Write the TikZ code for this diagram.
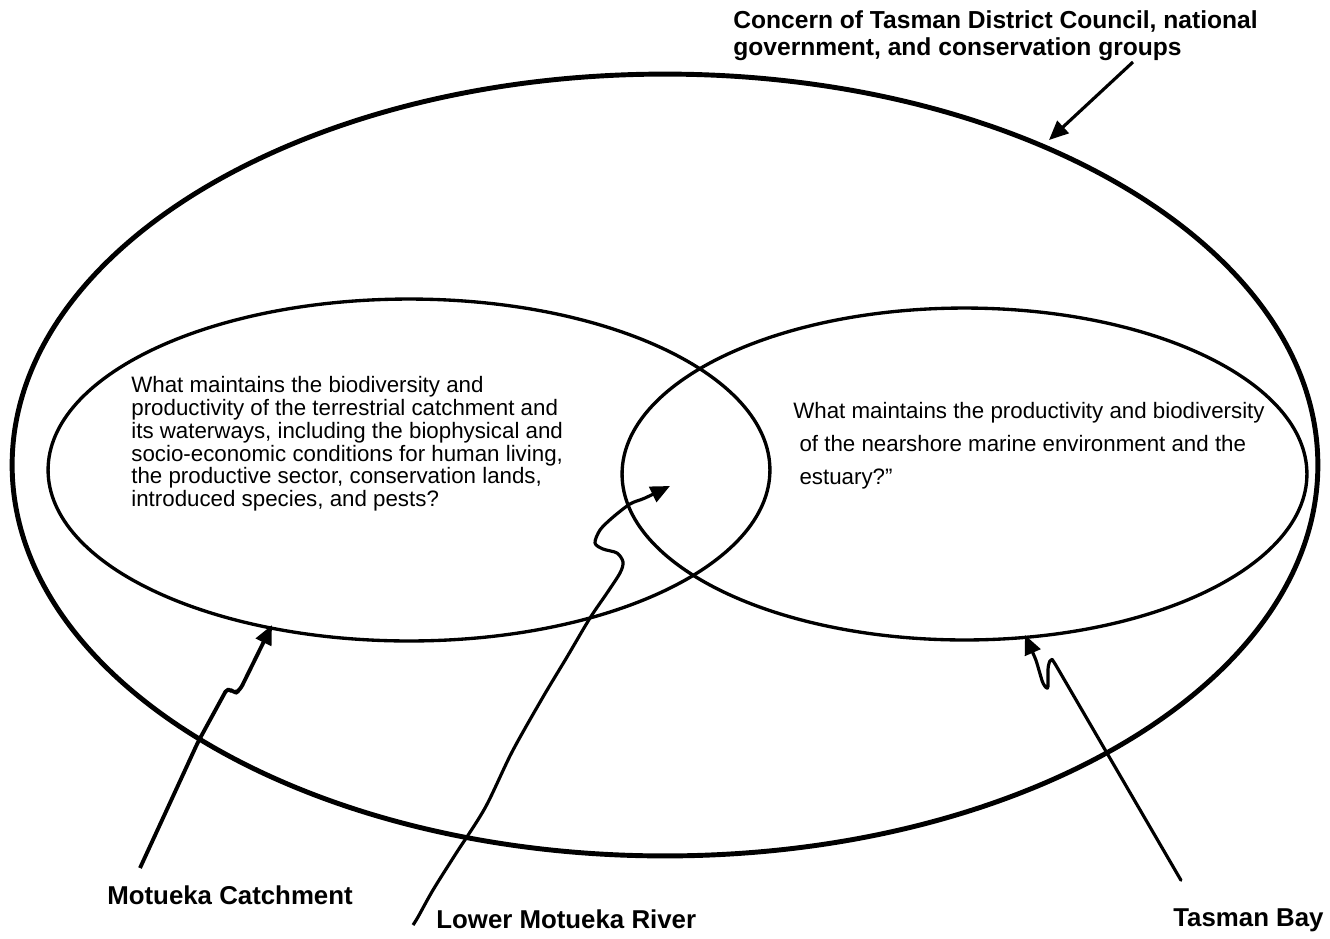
\documentclass[tikz,border=0pt]{standalone}
\usepackage{fontspec}
\setmainfont{Liberation Sans}
\usetikzlibrary{positioning, shapes.geometric, arrows.meta}
\tikzset{ring/.style = {draw=black, ellipse, inner sep=0pt, line width=1.9pt},
         question/.style = {inner sep=0pt, align=left, anchor=north west},
         place/.style = {inner sep=0pt, align=left, anchor=north west, font=\fontsize{14.7}{15.4}\selectfont\bfseries},
         pointer/.style = {line width=1.8pt, line join=round, -{Triangle[length=11pt,width=9.5pt]}}}

\begin{document}
\begin{tikzpicture}[x=0.02cm, y=0.02cm]
            \useasboundingbox (0,0) rectangle (1330,-938);

            \node [ring, line width=2.8pt, minimum width=26.12cm, minimum height=15.64cm] (region) at (665,-465) {};
            \node [ring, minimum width=14.44cm, minimum height=6.84cm] (land) at (409,-470) {};
            \node [ring, minimum width=13.70cm, minimum height=6.64cm] (sea)  at (964.5,-474) {};

            \node [question, font=\fontsize{12.7}{13}\selectfont] (landq) at (131,-376)
                {What maintains the biodiversity and\\
                 productivity of the terrestrial catchment and\\
                 its waterways, including the biophysical and\\
                 socio-economic conditions for human living,\\
                 the productive sector, conservation lands,\\
                 introduced species, and pests?};
            \node [question, font=\fontsize{12.7}{18.8}\selectfont] (seaq) at (793,-402)
                {What maintains the productivity and biodiversity\\
                 \ of the nearshore marine environment and the\\
                 \ estuary?''};

            \node [place, font=\fontsize{14}{15.4}\selectfont\bfseries] (concern) at (733,-10) {Concern of Tasman District Council, national\\government, and conservation groups};
            \node [place] (catch) at (107,-885) {Motueka Catchment};
            \node [place] (river) at (436,-909) {Lower Motueka River};
            \node [place] (bay)   at (1173,-908) {Tasman Bay};

            \coordinate (concernTail) at (1133,-62);
            \coordinate (concernTip)  at (1049,-140);
            \coordinate (catchTail)   at (140,-868);
            \coordinate (catchTip)    at (272,-625);
            \coordinate (riverTail)   at (413,-925);
            \coordinate (riverTip)    at (670,-486);
            \coordinate (bayTail)     at (1175,-870);
            \coordinate (bayTip)      at (1025,-635);

            \draw [pointer] (concernTail) -- (concernTip);
            \draw [pointer, line width=2.2pt, rounded corners=3pt] (catchTail) -- (198,-742) -- (228,-687) -- (234,-694) -- (240,-690) -- (catchTip);
            \draw [pointer] plot [smooth, tension=0.5] coordinates {(riverTail) (418,-917) (433,-890) (455,-855) (485,-808) (512,-752) (543,-697) (567,-657) (590,-618) (607,-593) (620,-573) (623,-562) (617,-553) (603,-549) (595,-543) (600,-530) (612,-518) (630,-504) (645,-498) (riverTip)};
            \draw [pointer, rounded corners=2pt] (bayTail) -- (1182,-882) -- (1054,-662) -- (1051,-658) -- (1048,-666) -- (1048,-690) -- (1043,-684) -- (1036,-660) -- (bayTip);
        \end{tikzpicture}
\end{document}
